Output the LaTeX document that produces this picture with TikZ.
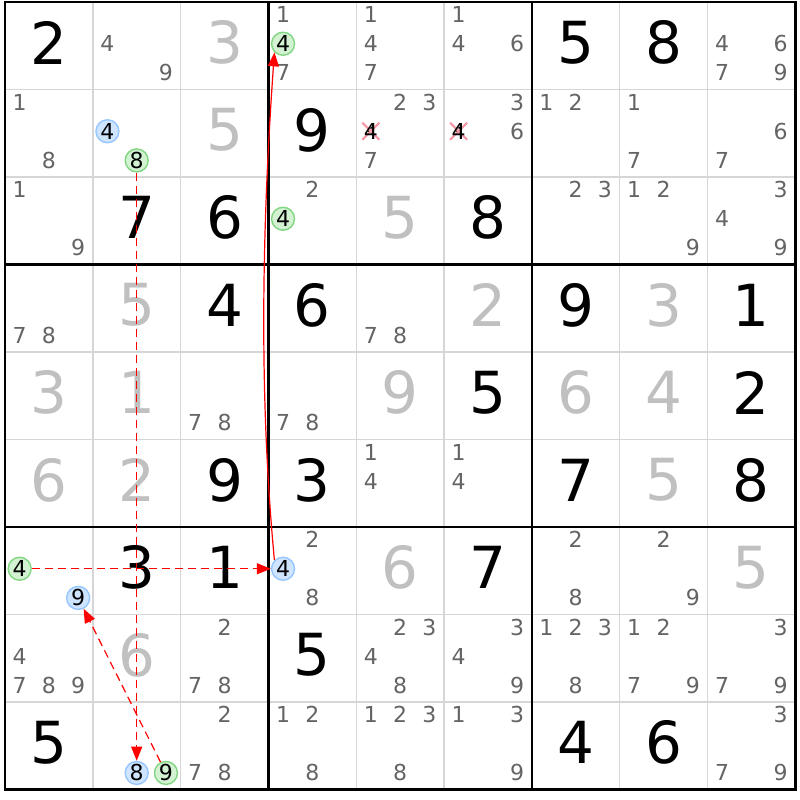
\documentclass[tikz,border=0pt]{standalone}
\usepackage{fontspec}
\setmainfont{DejaVu Sans}
\usetikzlibrary{arrows.meta,shapes.misc}
\definecolor{givengray}{RGB}{192,192,192}
\definecolor{candgray}{RGB}{100,100,100}
\definecolor{thingrid}{RGB}{214,214,214}
\definecolor{bluefill}{RGB}{206,228,255}
\definecolor{blueline}{RGB}{150,198,255}
\definecolor{greenfill}{RGB}{210,242,210}
\definecolor{greenline}{RGB}{130,214,130}
\definecolor{crosspink}{RGB}{245,150,165}
\def\cellw{87.8}
\def\cellh{87.5}
\def\gx{5}
\def\gy{2}
\newcommand\mkcand[5]{%
  \pgfmathtruncatemacro\candc{mod(#4-1,3)}%
  \pgfmathtruncatemacro\candr{(#4-1)/3}%
  \node[#1] (#5) at ({\gx+(#3-1)*\cellw+(2*\candc+1)*\cellw/6},{\gy+(#2-1)*\cellh+(2*\candr+1)*\cellh/6-2}) {#4};%
}
\begin{document}
\begin{tikzpicture}[x=1pt,y=-1pt,
  thinline/.style={draw=thingrid, line width=1.4pt},
  boxline/.style={draw=black, line width=2.6pt},
  bigdigit/.style={inner sep=0pt, font=\fontsize{58}{58}\selectfont},
  given/.style={bigdigit, text=givengray},
  solved/.style={bigdigit, text=black},
  cand/.style={inner sep=0pt, text=candgray, font=\fontsize{22}{22}\selectfont},
  hl/.style={circle, inner sep=0pt, minimum size=23pt, line width=1.4pt, text=black, font=\fontsize{22}{22}\selectfont},
  hb/.style={hl, draw=blueline, fill=bluefill},
  hg/.style={hl, draw=greenline, fill=greenfill},
  xcand/.style={inner sep=0pt, text=black, font=\fontsize{22}{22}\selectfont},
  xmark/.style={cross out, draw=crosspink, line width=2pt, minimum size=15pt, inner sep=0pt},
  link/.style={draw=red, line width=1.2pt, -{Triangle[length=14pt,width=11pt]}},
  dlink/.style={link, dash pattern=on 8pt off 5pt}]
\useasboundingbox (0,0) rectangle (800,800);
\fill[white] (0,0) rectangle (800,800);
% thin grid lines
\foreach \i in {1,2,4,5,7,8}{
  \draw[thinline] ({\gx+\i*\cellw},\gy) -- ({\gx+\i*\cellw},{\gy+9*\cellh});
  \draw[thinline] (\gx,{\gy+\i*\cellh}) -- ({\gx+9*\cellw},{\gy+\i*\cellh});
}
% box lines
\foreach \i in {3,6}{
  \draw[boxline] ({\gx+\i*\cellw},\gy) -- ({\gx+\i*\cellw},{\gy+9*\cellh});
  \draw[boxline] (\gx,{\gy+\i*\cellh}) -- ({\gx+9*\cellw},{\gy+\i*\cellh});
}
\draw[boxline] (\gx,\gy) rectangle ({\gx+9*\cellw},{\gy+9*\cellh});
% big digits
\foreach \r/\c/\d/\st in {
  1/1/2/solved, 1/3/3/given, 1/7/5/solved, 1/8/8/solved,
  2/3/5/given, 2/4/9/solved,
  3/2/7/solved, 3/3/6/solved, 3/5/5/given, 3/6/8/solved,
  4/2/5/given, 4/3/4/solved, 4/4/6/solved, 4/6/2/given, 4/7/9/solved, 4/8/3/given, 4/9/1/solved,
  5/1/3/given, 5/2/1/given, 5/5/9/given, 5/6/5/solved, 5/7/6/given, 5/8/4/given, 5/9/2/solved,
  6/1/6/given, 6/2/2/given, 6/3/9/solved, 6/4/3/solved, 6/7/7/solved, 6/8/5/given, 6/9/8/solved,
  7/2/3/solved, 7/3/1/solved, 7/5/6/given, 7/6/7/solved, 7/9/5/given,
  8/2/6/given, 8/4/5/solved,
  9/1/5/solved, 9/7/4/solved, 9/8/6/solved}{
  \node[\st] (v\r\c) at ({\gx+(\c-0.5)*\cellw},{\gy+(\r-0.5)*\cellh-3}) {\d};
}
% plain candidates
\foreach \r/\c/\L in {
  1/2/{4,9}, 1/4/{1,7}, 1/5/{1,4,7}, 1/6/{1,4,6}, 1/9/{4,6,7,9},
  2/1/{1,8}, 2/5/{2,3,7}, 2/6/{3,6}, 2/7/{1,2}, 2/8/{1,7}, 2/9/{6,7},
  3/1/{1,9}, 3/4/{2}, 3/7/{2,3}, 3/8/{1,2,9}, 3/9/{3,4,9},
  4/1/{7,8}, 4/5/{7,8},
  5/3/{7,8}, 5/4/{7,8},
  6/5/{1,4}, 6/6/{1,4},
  7/4/{2,8}, 7/7/{2,8}, 7/8/{2,9},
  8/1/{4,7,8,9}, 8/3/{2,7,8}, 8/5/{2,3,4,8}, 8/6/{3,4,9}, 8/7/{1,2,3,8}, 8/8/{1,2,7,9}, 8/9/{3,7,9},
  9/3/{2,7,8}, 9/4/{1,2,8}, 9/5/{1,2,3,8}, 9/6/{1,3,9}, 9/9/{3,7,9}}{
  \foreach \n in \L {\mkcand{cand}{\r}{\c}{\n}{k\r\c\n}}
}
% eliminated candidates
\mkcand{xmark}{2}{5}{4}{x254}
\mkcand{xcand}{2}{5}{4}{k254}
\mkcand{xmark}{2}{6}{4}{x264}
\mkcand{xcand}{2}{6}{4}{k264}
% highlighted candidates
\mkcand{hg}{1}{4}{4}{k144}
\mkcand{hb}{2}{2}{4}{k224}
\mkcand{hg}{2}{2}{8}{k228}
\mkcand{hg}{3}{4}{4}{k344}
\mkcand{hg}{7}{1}{4}{k714}
\mkcand{hb}{7}{1}{9}{k719}
\mkcand{hb}{7}{4}{4}{k744}
\mkcand{hb}{9}{2}{8}{k928}
\mkcand{hg}{9}{2}{9}{k929}
% links
\draw[dlink] (k228) -- (k928);
\draw[dlink] (k714) -- (k744);
\draw[dlink] (k929) -- (k719);
\draw[link] (k744.135) .. controls +(-16,-170) and +(-12,170) .. (k144.225);
\end{tikzpicture}
\end{document}
